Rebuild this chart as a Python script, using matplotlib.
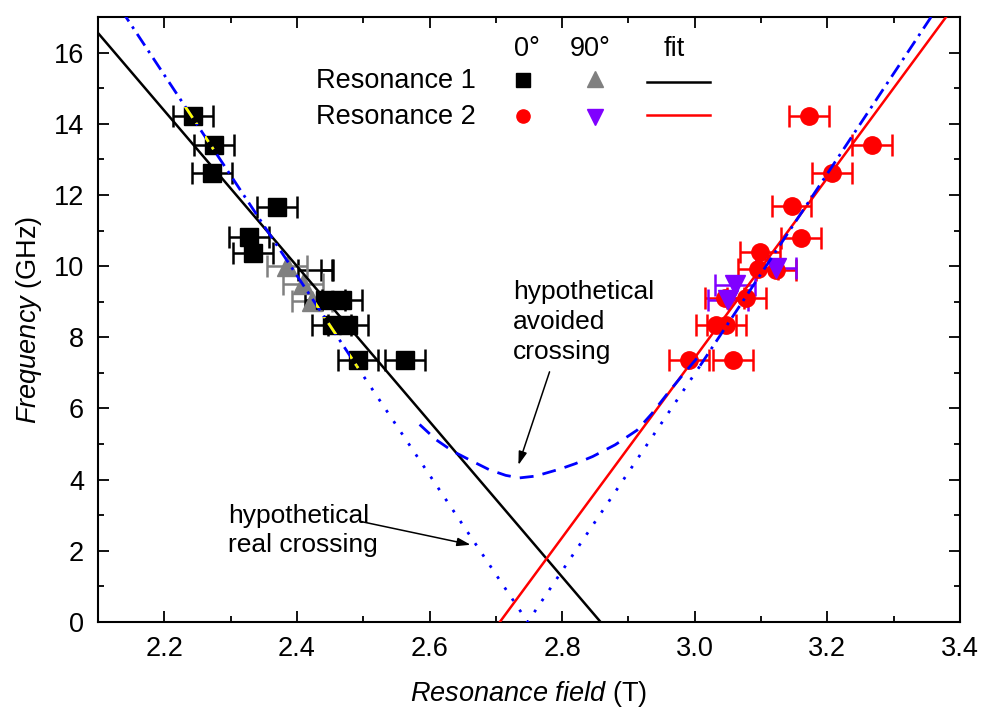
import matplotlib
matplotlib.use("Agg")
import matplotlib.pyplot as plt
from matplotlib.patches import Rectangle
from matplotlib.transforms import Affine2D, ScaledTranslation
from matplotlib.ticker import MultipleLocator

plt.rcParams['font.family'] = ['Liberation Sans', 'DejaVu Sans']
plt.rcParams['mathtext.fontset'] = 'custom'
plt.rcParams['mathtext.rm'] = 'Liberation Sans'
plt.rcParams['mathtext.it'] = 'Liberation Sans:italic'

# resonance 1, 0 deg (black squares)
b1_0 = [2.2432, 2.2744, 2.2714, 2.3694, 2.3281, 2.3342, 2.4422, 2.4674, 2.4522, 2.4773, 2.4924, 2.5628]
f1_0 = [14.23, 13.41, 12.63, 11.66, 10.82, 10.38, 9.06, 9.06, 8.34, 8.34, 7.36, 7.36]
# stray error bars without visible marker
b1_x = [2.428, 2.445]
f1_x = [9.88, 9.88]
e1_x = [0.026, 0.008]
# resonance 1, 90 deg (grey triangles)
b1_90 = [2.3845, 2.4086, 2.4231]
f1_90 = [10.0, 9.5, 9.02]
# resonance 2, 0 deg (red circles)
b2_0 = [3.172, 3.267, 3.207, 3.146, 3.160, 3.098, 3.0955, 3.123, 3.045, 3.078, 3.0326, 3.0477, 2.9914, 3.0578]
f2_0 = [14.22, 13.41, 12.62, 11.69, 10.80, 10.40, 9.91, 9.88, 9.09, 9.09, 8.34, 8.34, 7.36, 7.36]
# resonance 2, 90 deg (purple triangles)
b2_90 = [3.0603, 3.0503, 3.123]
f2_90 = [9.46, 9.04, 9.95]
xerr = 0.03

# fit lines
fit1_b = [2.1, 2.858]
fit1_f = [16.55, 0.0]
fit2_b = [2.706, 3.381]
fit2_f = [0.0, 17.05]

# hypothetical curves
dd_left_b = [2.135, 2.49]
dd_left_f = [17.2, 7.2]
dot_b = [2.49, 2.748, 3.008]
dot_f = [7.2, 0.0, 7.2]
dd_right_b = [3.008, 3.36]
dd_right_f = [7.2, 17.1]
dash_b = [2.585, 2.61, 2.635, 2.661, 2.69, 2.715, 2.736, 2.76, 2.797, 2.82, 2.846, 2.88, 2.913, 2.935, 2.958, 2.98, 3.005]
dash_f = [5.55, 5.12, 4.80, 4.55, 4.28, 4.12, 4.05, 4.10, 4.30, 4.45, 4.65, 4.98, 5.39, 5.85, 6.40, 6.90, 7.45]

purple = '#8000ff'
grey = '#808080'
blue = '#0000ff'

fig = plt.figure(figsize=(9.83, 7.13), dpi=100)
ax = fig.add_axes([0.0997, 0.1276, 0.8769, 0.8486])

ek = dict(ls='none', capsize=8, elinewidth=1.8, capthick=1.8)
ax.errorbar(b1_x, f1_x, xerr=e1_x, fmt='none', ecolor='k', capsize=8, elinewidth=1.8, capthick=1.8, zorder=2)
ax.errorbar(b1_90, f1_90, xerr=xerr, marker='^', ms=14, color=grey, mec=grey, **ek, zorder=3)
ax.errorbar(b1_0, f1_0, xerr=xerr, marker='s', ms=12.5, color='k', **ek, zorder=3)
ax.errorbar(b2_0, f2_0, xerr=xerr, marker='o', ms=12.5, color='red', **ek, zorder=3)
ax.errorbar(b2_90, f2_90, xerr=xerr, marker='v', ms=14, color=purple, **ek, zorder=3)

ax.plot(fit1_b, fit1_f, color='k', lw=1.8, zorder=4)
ax.plot(fit2_b, fit2_f, color='red', lw=1.8, zorder=4)

dashdot = (5, 2.2, 1, 2.2)
dotted = (1.0, 3.8)
dashed = (5, 3.3)
blue_lines = [(dd_left_b, dd_left_f, dashdot), (dot_b, dot_f, dotted), (dd_right_b, dd_right_f, dashdot)]
for xs, ys, ds in blue_lines:
    ax.plot(xs, ys, color=blue, lw=2, dashes=ds, zorder=5)
ax.plot(dash_b, dash_f, color=blue, lw=2, dashes=dashed, zorder=5)

ax.set_xlim(2.1, 3.4)
ax.set_ylim(0, 17)

# blue line shows yellow where it crosses the black squares
for x, y in zip(b1_0, f1_0):
    tr = Affine2D().scale(fig.dpi / 72.0) + ScaledTranslation(x, y, ax.transData)
    clip = Rectangle((-6.25, -6.25), 12.5, 12.5, transform=tr)
    for xs, ys, ds in blue_lines:
        ln, = ax.plot(xs, ys, color='yellow', lw=2, dashes=ds, zorder=6)
        ln.set_clip_path(clip)

ax.xaxis.set_major_locator(MultipleLocator(0.2))
ax.xaxis.set_minor_locator(MultipleLocator(0.1))
ax.yaxis.set_major_locator(MultipleLocator(2))
ax.yaxis.set_minor_locator(MultipleLocator(1))
ax.tick_params(which='both', direction='in', top=True, right=True, width=1.3, labelsize=19.5, pad=10)
ax.tick_params(which='major', length=8)
ax.tick_params(which='minor', length=4)
ax.xaxis.set_major_formatter(matplotlib.ticker.FormatStrFormatter('%.1f'))
for s in ax.spines.values():
    s.set_linewidth(1.5)

ax.set_xlabel(r'$\it{Resonance\ field}$ (T)', fontsize=19.5, labelpad=12)
ax.set_ylabel(r'$\it{Frequency}$ (GHz)', fontsize=19.5, labelpad=7)

# legend table
ta = ax.transAxes
ax.text(0.498, 0.947, '0°', transform=ta, ha='center', va='center', fontsize=19.5)
ax.text(0.571, 0.947, '90°', transform=ta, ha='center', va='center', fontsize=19.5)
ax.text(0.668, 0.947, 'fit', transform=ta, ha='center', va='center', fontsize=19.5)
ax.text(0.253, 0.894, 'Resonance 1', transform=ta, ha='left', va='center', fontsize=19.5)
ax.text(0.253, 0.834, 'Resonance 2', transform=ta, ha='left', va='center', fontsize=19.5)
ax.plot([0.493], [0.895], 's', ms=9.5, color='k', transform=ta)
ax.plot([0.577], [0.898], '^', ms=12, color=grey, transform=ta)
ax.plot([0.637, 0.710], [0.893, 0.893], color='k', lw=1.8, transform=ta)
ax.plot([0.493], [0.836], 'o', ms=9.5, color='red', transform=ta)
ax.plot([0.577], [0.835], 'v', ms=12, color=purple, transform=ta)
ax.plot([0.637, 0.710], [0.838, 0.838], color='red', lw=1.8, transform=ta)

arrow = dict(arrowstyle='-|>,head_length=0.8,head_width=0.25', color='k', lw=1.1, shrinkA=0, shrinkB=0)
ax.annotate('', xy=(2.734, 4.41), xytext=(2.781, 7.03), arrowprops=arrow)
ax.text(2.7257, 9.6, 'hypothetical\navoided\ncrossing', ha='left', va='top', fontsize=19, linespacing=1.3)
ax.annotate('', xy=(2.662, 2.17), xytext=(2.4975, 2.82), arrowprops=arrow)
ax.text(2.296, 3.33, 'hypothetical\nreal crossing', ha='left', va='top', fontsize=19, linespacing=1.3)

fig.savefig('out.png', dpi=100)
